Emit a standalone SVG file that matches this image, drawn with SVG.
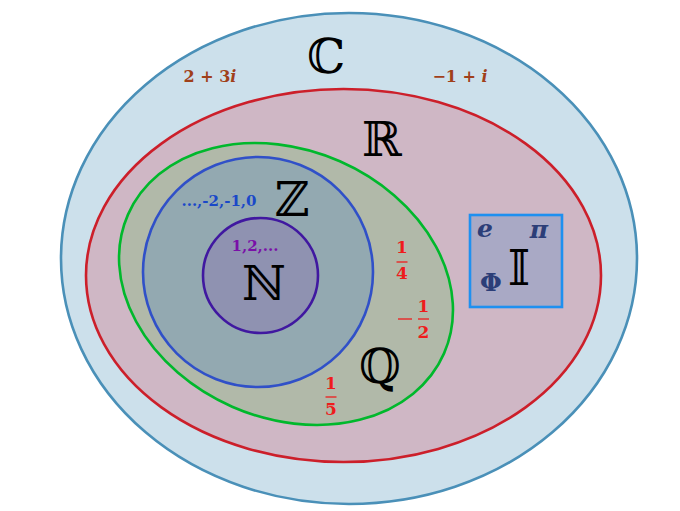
<svg xmlns="http://www.w3.org/2000/svg" width="680" height="511" viewBox="0 0 680 511">
<style>
.set{stroke-width:2.6}
.bb{font-family:"DejaVu Serif","DejaVu Sans",serif;font-size:48px;fill:#000;text-anchor:middle}
.lbl{font-family:"DejaVu Serif","Liberation Serif",serif;font-weight:bold;text-anchor:middle}
.cx{font-size:16px;fill:#a0401a}
.fr{font-size:17px;fill:#ee1c1c}
.irr{font-size:25px;fill:#2c3e78;font-style:italic}
.bar{stroke:#ee1c1c;stroke-width:1.3}
</style>
<rect width="680" height="511" fill="#fff"/>
<g id="C">
<ellipse class="set" cx="349" cy="258.5" rx="288" ry="245.5" fill="#cce0eb" stroke="#4a90b8"/>
<text class="bb" x="326" y="73">ℂ</text>
<text class="lbl cx" x="210" y="82">2 + 3<tspan font-style="italic">i</tspan></text>
<text class="lbl cx" x="460" y="82">−1 + <tspan font-style="italic">i</tspan></text>
</g>
<g id="R">
<ellipse class="set" cx="343.5" cy="275.5" rx="257.5" ry="186.5" fill="#cfb7c5" stroke="#cc1f2a"/>
<text class="bb" x="382" y="156">ℝ</text>
</g>
<g id="Q">
<ellipse class="set" cx="286" cy="284" rx="172.6" ry="134" transform="rotate(23.7 286 284)" fill="#b1b9a9" stroke="#00b82c"/>
<text class="bb" x="380" y="383">ℚ</text>
<text class="lbl fr" x="402" y="253">1</text>
<line class="bar" x1="396.5" y1="262" x2="407.5" y2="262"/>
<text class="lbl fr" x="402" y="279">4</text>
<line class="bar" x1="398" y1="319" x2="412" y2="319"/>
<text class="lbl fr" x="423.5" y="312">1</text>
<line class="bar" x1="418" y1="319" x2="429" y2="319"/>
<text class="lbl fr" x="423.5" y="338">2</text>
<text class="lbl fr" x="331" y="389">1</text>
<line class="bar" x1="325.5" y1="397" x2="336.5" y2="397"/>
<text class="lbl fr" x="331" y="415">5</text>
</g>
<g id="Z">
<circle class="set" cx="258" cy="272" r="115" fill="#93a9b1" stroke="#3050c8"/>
<text class="bb" x="292" y="216">ℤ</text>
<text class="lbl" x="219" y="206" font-size="15" fill="#1a48c8">...,-2,-1,0</text>
</g>
<g id="N">
<circle class="set" cx="260.5" cy="275.5" r="57.5" fill="#8f92b1" stroke="#4018a0"/>
<text class="bb" x="264" y="300">ℕ</text>
<text class="lbl" x="255" y="251" font-size="15" fill="#7a10a8">1,2,...</text>
</g>
<g id="I">
<rect x="470" y="215" width="92" height="92" fill="#a9a9c5" stroke="#1e90f0" stroke-width="2.6"/>
<text class="bb" x="519" y="285">𝕀</text>
<text class="lbl irr" x="485" y="237">e</text>
<text class="lbl irr" x="539" y="238">π</text>
<text class="lbl irr" x="491" y="291" style="font-style:normal">Φ</text>
</g>
<g id="connectors"></g>
</svg>
